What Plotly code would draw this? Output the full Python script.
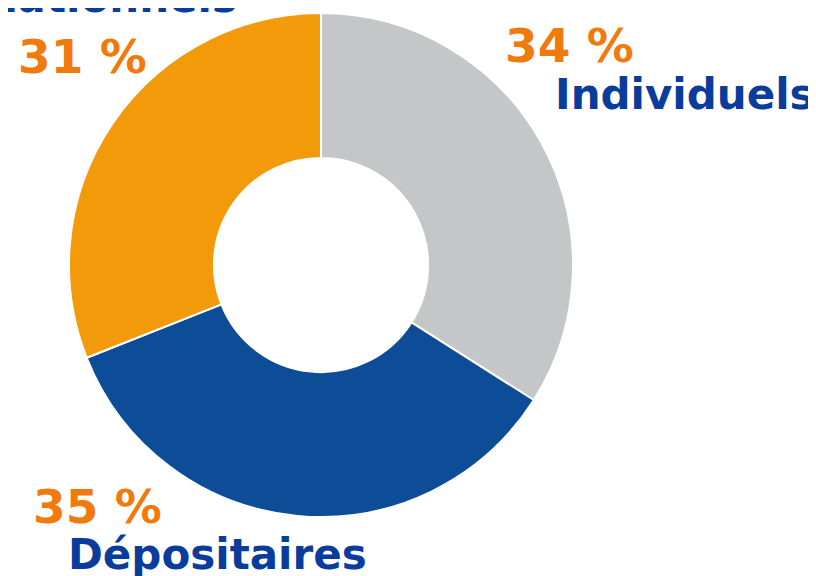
import plotly.graph_objects as go

# Data
categories = ["Individuels", "Dépositaires", "Institutionnels"]
shares = [34, 35, 31]
slice_colors = ["#c5c6c8", "#0d4c97", "#f39a0a"]

W, H = 816, 576

CX, CY, R = 313, 257, 252
fig = go.Figure()
fig.add_trace(go.Pie(
    labels=categories,
    values=shares,
    sort=False,
    direction="clockwise",
    rotation=0,
    hole=0.425,
    textinfo="none",
    hoverinfo="label+percent",
    showlegend=False,
    marker=dict(colors=slice_colors, line=dict(color="#ffffff", width=2)),
    domain=dict(x=[(CX - R) / W, (CX + R) / W],
                y=[1 - (CY + R) / H, 1 - (CY - R) / H]),
))

# label layout: (pct center x, pct center y, name center x, name baseline y) in pixels
label_pos = {
    "Individuels": (561, 37, 677, 110),
    "Dépositaires": (89, 498, 210, 570),
    "Institutionnels": (74, 48, 56, 13),
}

FONT = "DejaVu Sans"
NAME_FS = 42
annotations = []
for cat, val in zip(categories, shares):
    px, py, nx, nb = label_pos[cat]
    annotations.append(dict(
        text=f"{val} %", x=px / W, y=1 - py / H, xref="paper", yref="paper",
        xanchor="center", yanchor="middle", showarrow=False,
        font=dict(family=FONT, size=47, color="#f07a0c", weight="bold"),
    ))
    # anchor the box bottom just under the text baseline
    bottom_px = nb + 0.08 * NAME_FS
    annotations.append(dict(
        text=cat, x=nx / W, y=1 - bottom_px / H,
        xref="paper", yref="paper",
        xanchor="center", yanchor="bottom", showarrow=False,
        font=dict(family=FONT, size=NAME_FS, color="#0a3d9b", weight="bold"),
    ))

fig.update_layout(
    width=W, height=H,
    margin=dict(l=0, r=0, t=0, b=0),
    paper_bgcolor="#ffffff",
    plot_bgcolor="#ffffff",
    annotations=annotations,
)

fig.write_html("out.html")
